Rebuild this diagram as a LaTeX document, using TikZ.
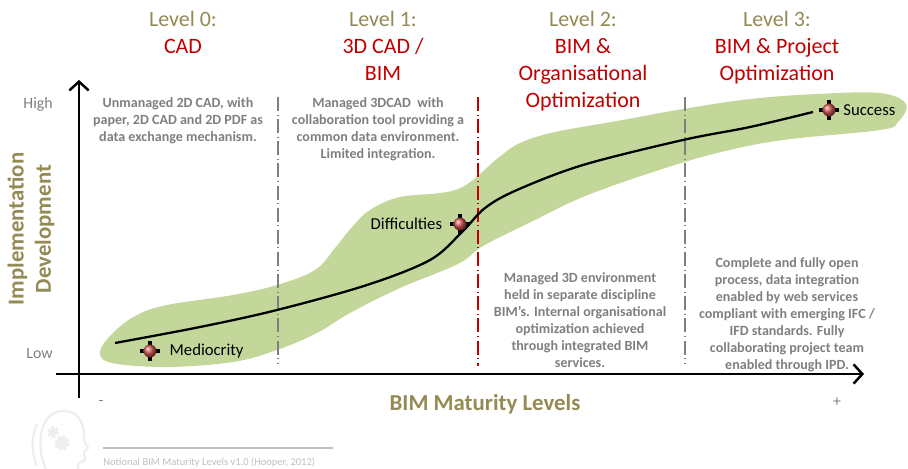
\documentclass[tikz,border=0pt]{standalone}
\usepackage{fontspec}
\setmainfont{Carlito}
\usetikzlibrary{positioning,arrows.meta}

\definecolor{olivetitle}{HTML}{948A54}
\definecolor{levelred}{HTML}{C00000}
\definecolor{notegray}{HTML}{7F7F7F}
\definecolor{footgray}{HTML}{BFBFBF}
\definecolor{bandgreen}{HTML}{C4D79B}
\definecolor{ballred}{HTML}{D25555}
\definecolor{iconfaint}{HTML}{EEEEEE}

\tikzset{
    leveltitle/.style = {align = center, anchor = north, inner sep = 0pt,
        font = \fontsize{12.5}{15.4}\selectfont},
    note/.style = {align = center, anchor = north, inner sep = 0pt, text = notegray,
        font = \fontsize{8}{9.7}\selectfont\bfseries},
    divider/.style = {notegray, line width = 0.7pt,
        dash pattern = on 8pt off 2pt on 0.6pt off 2pt},
    axis/.style = {line width = 1.4pt, -{Straight Barb[length = 5pt, width = 11pt]}},
    tag/.style = {inner sep = 0pt, font = \fontsize{9.5}{11}\selectfont},
    cross/.style = {line width = 1.8pt},
    axistitle/.style = {inner sep = 0pt, text = olivetitle,
        font = \fontsize{13}{15.4}\selectfont\bfseries},
    ticklabel/.style = {inner sep = 0pt, text = notegray, font = \fontsize{9}{11}\selectfont}
}

\begin{document}
\begin{tikzpicture}[x = 0.02cm, y = -0.02cm]
    \useasboundingbox (0, 0) rectangle (908, 469);

    % green band
    \fill [bandgreen] plot [smooth cycle, tension = 0.6] coordinates {
        (100, 352) (112, 334) (135, 316) (167, 305) (233, 295) (277, 285)
        (315, 270) (335, 248) (352, 227) (370, 210) (400, 197) (458, 189)
        (498, 158) (520, 143) (555, 132) (617, 121) (683, 109) (750, 99)
        (817, 94) (880, 93) (906, 104) (898, 122) (880, 130) (783, 140)
        (717, 153) (650, 173) (583, 197) (533, 221) (483, 246) (458, 264)
        (400, 288) (350, 313) (317, 333) (277, 350) (233, 362) (167, 367)
        (112, 363)
    };

    % level dividers
    \draw [divider] (278, 97) -- (278, 363);
    \draw [divider, levelred, line width = 1pt] (478, 97) -- (478, 366);
    \draw [divider] (685, 97) -- (685, 363);

    % axes
    \draw [axis] (79, 398) -- (79, 80);
    \draw [axis] (56, 374) -- (864, 374);

    % trend
    \draw [line width = 1.3pt] plot [smooth, tension = 0.55] coordinates {
        (115, 343) (200, 327) (277, 310) (367, 285) (430, 260) (462, 232)
        (485, 208) (517, 190) (583, 165) (683, 140) (750, 127) (813, 112)
    };

    % milestones
    \foreach \name/\x/\y in {mediocrity/150/351, difficulties/460/224, success/829/110} {
        \draw [cross] (\x - 10, \y) -- (\x + 10, \y) (\x, \y - 10) -- (\x, \y + 10);
        \shade [ball color = ballred] (\x, \y) circle [radius = 6.5];
        \coordinate (\name) at (\x, \y);
    }
    \node [tag, right = 11pt of mediocrity] (lmediocrity) {Mediocrity};
    \node [tag, left = 10pt of difficulties] (ldifficulties) {Difficulties};
    \node [tag, right = 8pt of success] (lsuccess) {Success};

    % level titles
    \node [leveltitle] (level0) at (183, 11) {\textcolor{olivetitle}{Level 0:}\\
        \textcolor{levelred}{CAD}};
    \node [leveltitle] (level1) at (383, 11) {\textcolor{olivetitle}{Level 1:}\\
        \textcolor{levelred}{3D CAD /}\\ \textcolor{levelred}{BIM}};
    \node [leveltitle] (level2) at (583, 11) {\textcolor{olivetitle}{Level 2:}\\
        \textcolor{levelred}{BIM \&}\\ \textcolor{levelred}{Organisational}\\
        \textcolor{levelred}{Optimization}};
    \node [leveltitle] (level3) at (777, 11) {\textcolor{olivetitle}{Level 3:}\\
        \textcolor{levelred}{BIM \& Project}\\ \textcolor{levelred}{Optimization}};

    % level notes
    \node [note] (note0) at (178, 97) {Unmanaged 2D CAD, with\\
        paper, 2D CAD and 2D PDF as\\ data exchange mechanism.};
    \node [note] (note1) at (378, 97) {Managed 3DCAD\ \ with\\
        collaboration tool providing a\\ common data environment.\\
        Limited integration.};
    \node [note] (note2) at (580, 272) {Managed 3D environment\\
        held in separate discipline\\ BIM’s. Internal organisational\\
        optimization achieved\\ through integrated BIM\\ services.};
    \node [note] (note3) at (787, 257) {Complete and fully open\\
        process, data integration\\ enabled by web services\\
        compliant with emerging IFC /\\ IFD standards. Fully\\
        collaborating project team\\ enabled through IPD.};

    % axis labels
    \node [ticklabel, anchor = base east] (high) at (53, 109) {High};
    \node [ticklabel, anchor = base east] (low) at (53, 358) {Low};
    \node [ticklabel] (minus) at (101, 403) {-};
    \node [ticklabel] (plus) at (837, 402) {+};
    \node [axistitle, anchor = base] (xtitle) at (485, 410) {BIM Maturity Levels};
    \node [axistitle, align = center, rotate = 90] (ytitle) at (31, 229)
        {Implementation\\ Development};

    % footer
    \draw [footgray, line width = 1pt] (103, 448) -- (333, 448);
    \node [inner sep = 0pt, anchor = base west, text = footgray,
        font = \fontsize{6}{7}\selectfont] (credit) at (103, 465)
        {Notional BIM Maturity Levels v1.0 (Hooper, 2012)};
    \draw [iconfaint, line width = 1.3pt] plot [smooth, tension = 0.7] coordinates {
        (46, 469) (41, 452) (42, 430) (50, 416) (63, 411) (76, 415)
        (83, 427) (84, 440) (88, 448) (84, 452) (85, 460) (79, 463) (78, 469)
    } (37, 424) .. controls (31, 438) and (31, 452) .. (37, 466);
    \draw [iconfaint, fill = iconfaint, line width = 2pt,
        dash pattern = on 1.5pt off 1.2pt] (53, 432) circle [radius = 4.5]
        (62, 443) circle [radius = 6];
\end{tikzpicture}
\end{document}
